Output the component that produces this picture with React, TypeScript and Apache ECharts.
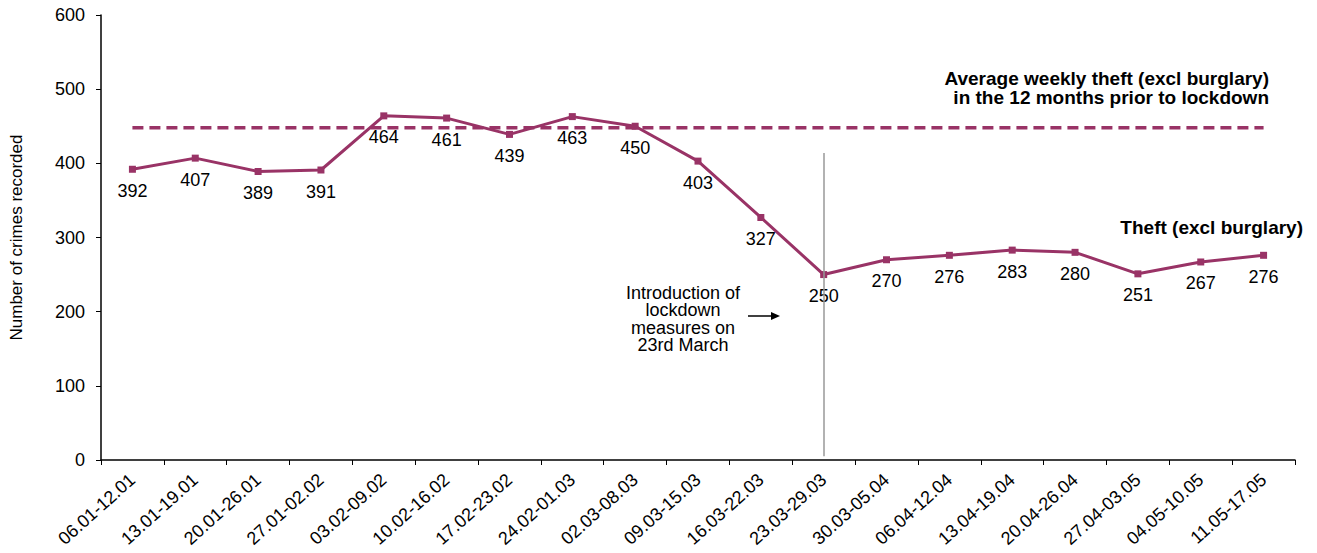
import React, { useEffect, useRef } from "react";
import * as echarts from "echarts";

const categories = [
  "06.01-12.01", "13.01-19.01", "20.01-26.01", "27.01-02.02", "03.02-09.02",
  "10.02-16.02", "17.02-23.02", "24.02-01.03", "02.03-08.03", "09.03-15.03",
  "16.03-22.03", "23.03-29.03", "30.03-05.04", "06.04-12.04", "13.04-19.04",
  "20.04-26.04", "27.04-03.05", "04.05-10.05", "11.05-17.05",
];
const theftValues = [392, 407, 389, 391, 464, 461, 439, 463, 450, 403, 327, 250, 270, 276, 283, 280, 251, 267, 276];
const averageWeekly = 448;
const averageValues = categories.map(() => averageWeekly);
const lockdownIndex = 11;
const lockdownLineRange = [414, 5];
const yTicks = { min: 0, max: 600, interval: 100 };

const COLOR = "#993366";
const FONT = "'Liberation Sans', Arial, sans-serif";

export default function App() {
  const ref = useRef<HTMLDivElement>(null);
  useEffect(() => {
    const chart = echarts.init(ref.current!, null, { renderer: "svg" });
    chart.setOption({
      animation: false,
      textStyle: { fontFamily: FONT },
      grid: { left: 101, right: 22, top: 15, bottom: 93, containLabel: false },
      xAxis: {
        type: "category",
        data: categories,
        boundaryGap: true,
        axisLine: { lineStyle: { color: "#000", width: 1.5 } },
        axisTick: { show: true, length: 5, lineStyle: { color: "#000" } },
        axisLabel: { rotate: 42, fontSize: 18, color: "#000", fontFamily: FONT, margin: 17 },
      },
      yAxis: {
        type: "value",
        min: yTicks.min,
        max: yTicks.max,
        interval: yTicks.interval,
        name: "Number of crimes recorded",
        nameLocation: "middle",
        nameGap: 76,
        nameTextStyle: { fontSize: 17, color: "#000", fontFamily: FONT },
        splitLine: { show: false },
        axisLine: { show: true, lineStyle: { color: "#000", width: 1.5 } },
        axisTick: { show: true, length: 5, lineStyle: { color: "#000" } },
        axisLabel: { fontSize: 18, color: "#000", fontFamily: FONT, margin: 16 },
      },
      series: [
        {
          name: "Average",
          type: "line",
          data: averageValues,
          symbol: "none",
          lineStyle: { color: COLOR, width: 3.5, type: [11, 6] },
          z: 2,
          markLine: {
            silent: true,
            symbol: "none",
            label: { show: false },
            lineStyle: { color: "#999", width: 1.5, type: "solid" },
            data: [[
              { coord: [lockdownIndex, lockdownLineRange[0]] },
              { coord: [lockdownIndex, lockdownLineRange[1]] },
            ]],
          },
        },
        {
          name: "Theft (excl burglary)",
          type: "line",
          data: theftValues,
          symbol: "rect",
          symbolSize: 7,
          itemStyle: { color: COLOR },
          lineStyle: { color: COLOR, width: 3 },
          z: 3,
          label: {
            show: true,
            position: "bottom",
            distance: 9,
            fontSize: 18,
            color: "#000",
            fontFamily: FONT,
          },
        },
      ],
      graphic: [
        {
          type: "text",
          right: 48,
          top: 69,
          style: {
            text: "Average weekly theft (excl burglary)\n in the 12 months prior to lockdown",
            font: `bold 19px ${FONT}`,
            fill: "#000",
            textAlign: "right",
            lineHeight: 19,
          },
        },
        {
          type: "text",
          right: 14,
          top: 218,
          style: {
            text: "Theft (excl burglary)",
            font: `bold 19px ${FONT}`,
            fill: "#000",
          },
        },
        {
          type: "text",
          x: 683,
          y: 284,
          style: {
            text: "Introduction of\nlockdown\nmeasures on\n23rd March",
            font: `18px ${FONT}`,
            fill: "#000",
            textAlign: "center",
            lineHeight: 17.5,
          },
        },
        {
          type: "line",
          shape: { x1: 748, y1: 316, x2: 772, y2: 316 },
          style: { stroke: "#000", lineWidth: 1.5 },
        },
        {
          type: "polygon",
          shape: { points: [[771, 312], [780, 316], [771, 320]] },
          style: { fill: "#000" },
        },
      ],
    });
    return () => chart.dispose();
  }, []);
  return <div ref={ref} style={{ width: 1317, height: 553, position: "absolute", left: 0, top: 0 }} />;
}
